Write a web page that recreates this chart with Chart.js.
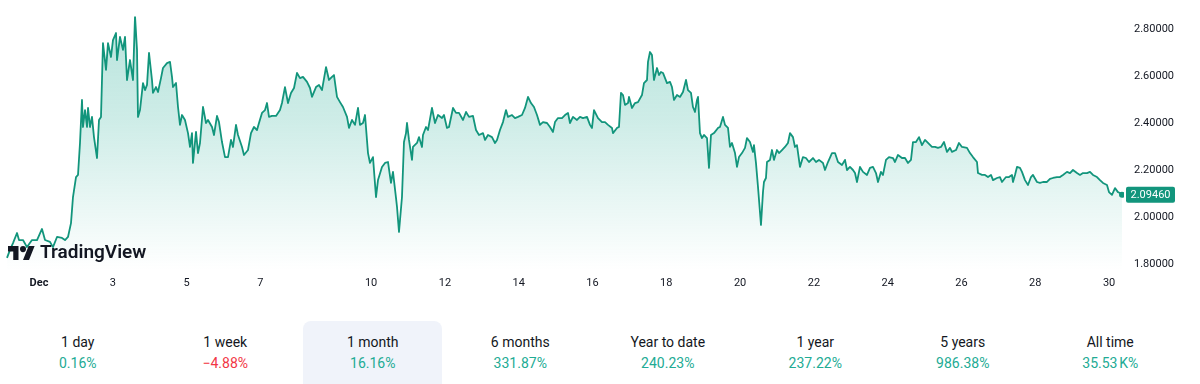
<!DOCTYPE html>
<html>
<head>
<meta charset="utf-8">
<script src="https://cdn.jsdelivr.net/npm/chart.js@4.4.1/dist/chart.umd.min.js"></script>
<style>
  html,body{margin:0;padding:0;background:#fff;}
  body{width:1200px;height:384px;overflow:hidden;position:relative;font-family:Roboto,"Noto Sans",sans-serif;}
  #c{position:absolute;left:0;top:0;display:block;}
  .logo-icon{position:absolute;left:8px;top:246px;width:27px;height:14px;z-index:2;display:block;}
  .logo-text{position:absolute;left:40px;top:241px;z-index:2;font-family:Roboto,sans-serif;font-weight:600;font-size:19px;color:#131722;letter-spacing:0px;line-height:22px;white-space:nowrap;}
  .stats{position:absolute;left:4px;top:321px;width:1180px;height:63px;display:flex;}
  .stat{width:147.5px;height:63px;display:flex;justify-content:center;}
  .stat .box{width:139px;height:70px;border-radius:8px;text-align:center;padding-top:11px;box-sizing:border-box;}
  .stat.active .box{background:#f0f3fa;}
  .lbl{font-size:14px;line-height:21px;color:#131722;}
  .val{font-size:14px;line-height:21px;}
  .up{color:#22ab94;} .down{color:#f23645;}
</style>
</head>
<body>
<canvas id="c" width="1200" height="300"></canvas>
<svg class="logo-icon" viewBox="0 4 36 18" preserveAspectRatio="none"><path d="M14 22H7V11H0V4h14v18zM28 22h-8l7.5-18h8L28 22z" fill="#131722"/><circle cx="20" cy="8" r="4" fill="#131722"/></svg>
<div class="logo-text">TradingView</div>
<div class="stats" id="stats"></div>
<script>
// ---- data ----
const days = [0.133,0.214,0.295,0.404,0.458,0.566,0.675,0.810,0.946,1.081,1.163,1.298,1.379,1.488,1.623,1.705,1.786,1.867,1.921,2.003,2.057,2.111,2.165,2.192,2.247,2.301,2.328,2.382,2.436,2.490,2.572,2.626,2.680,2.734,2.816,2.870,2.951,3.005,3.087,3.114,3.195,3.276,3.331,3.385,3.466,3.547,3.602,3.656,3.683,3.737,3.818,3.873,3.927,3.981,4.062,4.089,4.170,4.225,4.306,4.360,4.469,4.550,4.604,4.631,4.713,4.767,4.821,4.875,4.956,
5.038,5.092,5.146,5.173,5.255,5.309,5.363,5.444,5.526,5.580,5.689,5.742,5.824,5.878,5.959,6.041,6.122,6.203,6.257,6.339,6.393,6.501,6.555,6.664,6.745,6.826,6.908,6.962,7.043,7.125,7.179,7.233,7.314,7.423,7.531,7.585,7.666,7.748,7.829,7.911,7.992,8.073,8.154,8.263,8.344,8.398,8.507,8.588,8.669,8.778,8.859,8.940,8.994,9.076,9.157,9.238,9.347,9.401,9.482,9.564,9.645,9.699,9.780,9.835,
9.916,9.970,10.051,10.133,10.187,10.295,10.377,10.458,10.539,10.593,10.675,10.702,10.756,10.837,10.891,10.946,10.973,11.027,11.108,11.135,11.244,11.298,11.379,11.406,11.488,11.542,11.650,11.732,11.813,11.921,11.975,12.057,12.111,12.220,12.301,12.382,12.491,12.572,12.653,12.761,12.843,12.924,13.032,13.087,13.168,13.276,13.358,13.412,13.493,13.574,13.656,13.710,13.818,13.900,13.981,14.089,14.171,14.252,14.333,14.414,14.496,14.577,14.658,14.767,14.848,14.929,
14.984,15.065,15.173,15.255,15.336,15.390,15.471,15.580,15.661,15.742,15.851,15.932,15.986,16.041,16.149,16.257,16.339,16.420,16.528,16.555,16.664,16.718,16.772,16.826,16.881,16.962,16.989,17.070,17.152,17.233,17.341,17.395,17.477,17.504,17.558,17.612,17.666,17.748,17.802,17.856,17.910,18.019,18.100,18.154,18.208,18.290,18.371,18.452,18.534,18.588,18.669,18.723,18.778,18.832,18.859,18.913,18.967,19.021,19.103,19.157,19.211,19.292,19.401,19.455,19.536,19.591,19.672,19.726,19.780,19.862,19.916,19.970,
20.051,20.133,20.187,20.268,20.349,20.376,20.430,20.485,20.566,20.620,20.647,20.701,20.729,20.810,20.864,20.918,20.999,21.054,21.135,21.216,21.297,21.352,21.433,21.487,21.541,21.623,21.704,21.785,21.867,21.975,22.057,22.138,22.246,22.301,22.382,22.490,22.572,22.653,22.761,22.843,22.897,22.978,23.059,23.114,23.168,23.249,23.330,23.439,23.520,23.601,23.683,23.737,23.818,23.872,23.954,24.035,24.143,24.198,24.279,24.387,24.469,24.550,24.631,24.685,24.767,24.848,24.929,
25.011,25.092,25.200,25.282,25.363,25.444,25.526,25.607,25.688,25.742,25.851,25.932,26.013,26.149,26.230,26.311,26.420,26.447,26.555,26.637,26.718,26.799,26.854,26.962,27.043,27.097,27.206,27.287,27.368,27.395,27.450,27.504,27.585,27.639,27.721,27.802,27.883,27.937,28.046,28.127,28.208,28.317,28.398,28.479,28.587,28.669,28.750,28.859,28.940,29.021,29.130,29.211,29.292,29.401,29.482,29.563,29.672,29.753,29.834,29.943,29.997,30.078,30.160,30.241,30.295,30.350];

const prices = [1.826,1.860,1.889,1.932,1.902,1.902,1.872,1.902,1.902,1.949,1.902,1.894,1.872,1.915,1.911,1.902,1.915,1.974,2.085,2.170,2.179,2.315,2.498,2.383,2.455,2.383,2.464,2.383,2.426,2.340,2.251,2.413,2.426,2.740,2.626,2.740,2.681,2.753,2.783,2.668,2.766,2.711,2.766,2.583,2.668,2.583,2.855,2.711,2.426,2.455,2.570,2.540,2.562,2.698,2.583,2.528,2.553,2.532,2.591,2.634,2.655,2.660,2.596,2.553,2.570,2.468,2.392,2.434,2.413,
2.357,2.298,2.357,2.230,2.362,2.272,2.315,2.468,2.400,2.413,2.383,2.349,2.430,2.404,2.319,2.255,2.255,2.328,2.298,2.392,2.349,2.298,2.264,2.285,2.357,2.383,2.370,2.400,2.443,2.455,2.485,2.426,2.430,2.430,2.455,2.485,2.553,2.485,2.528,2.549,2.613,2.591,2.596,2.575,2.549,2.511,2.553,2.562,2.540,2.638,2.583,2.596,2.604,2.511,2.489,2.468,2.426,2.379,2.413,2.392,2.464,2.392,2.400,2.434,
2.272,2.230,2.255,2.085,2.157,2.213,2.230,2.234,2.145,2.192,2.081,2.043,1.936,2.085,2.319,2.357,2.400,2.328,2.243,2.298,2.315,2.340,2.298,2.349,2.383,2.370,2.464,2.400,2.434,2.421,2.434,2.379,2.383,2.464,2.443,2.443,2.413,2.447,2.426,2.430,2.370,2.349,2.357,2.328,2.349,2.340,2.315,2.328,2.370,2.404,2.455,2.426,2.434,2.421,2.426,2.434,2.464,2.511,2.485,2.468,2.434,2.392,2.404,2.400,2.383,2.362,
2.404,2.421,2.421,2.434,2.443,2.400,2.426,2.413,2.426,2.421,2.426,2.392,2.379,2.455,2.421,2.404,2.404,2.392,2.379,2.357,2.379,2.383,2.528,2.519,2.477,2.485,2.511,2.464,2.485,2.489,2.519,2.570,2.583,2.660,2.702,2.689,2.583,2.634,2.604,2.617,2.613,2.570,2.575,2.553,2.498,2.519,2.511,2.532,2.583,2.540,2.528,2.468,2.447,2.498,2.511,2.357,2.336,2.349,2.336,2.209,2.349,2.357,2.379,2.383,2.426,2.392,2.379,2.298,2.315,2.272,2.213,2.255,
2.272,2.294,2.336,2.319,2.277,2.306,2.230,2.128,1.966,2.106,2.149,2.166,2.234,2.243,2.285,2.243,2.285,2.272,2.285,2.298,2.315,2.357,2.340,2.298,2.306,2.213,2.255,2.251,2.234,2.251,2.234,2.243,2.230,2.200,2.234,2.272,2.272,2.234,2.221,2.243,2.200,2.213,2.200,2.187,2.149,2.213,2.192,2.179,2.209,2.213,2.187,2.149,2.192,2.179,2.243,2.255,2.251,2.234,2.264,2.251,2.251,2.230,2.243,2.319,2.319,2.340,2.306,
2.328,2.315,2.298,2.298,2.294,2.298,2.319,2.277,2.294,2.277,2.285,2.315,2.298,2.294,2.272,2.255,2.234,2.187,2.179,2.179,2.170,2.179,2.157,2.166,2.170,2.149,2.170,2.170,2.179,2.149,2.179,2.213,2.209,2.192,2.157,2.136,2.170,2.179,2.149,2.145,2.149,2.149,2.162,2.166,2.170,2.170,2.179,2.192,2.187,2.200,2.187,2.179,2.187,2.187,2.192,2.179,2.170,2.157,2.145,2.136,2.106,2.094,2.123,2.106,2.102,2.0946];

const xTickDays = [1,3,5,7,10,12,14,16,18,20,22,24,26,28,30];
const yTickValues = [1.8,2.0,2.2,2.4,2.6,2.8];

const periodLabels = ["1 day","1 week","1 month","6 months","Year to date","1 year","5 years","All time"];
const periodValues = ["0.16%","\u22124.88%","16.16%","331.87%","240.23%","237.22%","986.38%","35.53\u202FK%"];
const periodUp = [true,false,true,true,true,true,true,true];
const activePeriod = 2;

// ---- styling / ranges ----
const LINE = '#12957c';
const X_MIN = -0.057, X_MAX = 30.404;
// target placement of the price axis: 2.8 at y=29px, 0.2 per 47px
const Y_REF_VAL = 2.8, Y_REF_PX = 29, PX_PER_UNIT = 235;

if (days.length !== prices.length) { throw new Error('length mismatch ' + days.length + ' vs ' + prices.length); }
const points = days.map((d, i) => ({x: d, y: prices[i]}));

// stats row
const statsEl = document.getElementById('stats');
periodLabels.forEach((l, i) => {
  const s = document.createElement('div');
  s.className = 'stat' + (i === activePeriod ? ' active' : '');
  s.innerHTML = '<div class="box"><div class="lbl">' + l + '</div><div class="val ' + (periodUp[i] ? 'up' : 'down') + '">' + periodValues[i] + '</div></div>';
  statsEl.appendChild(s);
});

const priceLabel = {
  id: 'priceLabel',
  afterDraw(chart) {
    const c = chart.ctx;
    const last = prices[prices.length - 1];
    const y = chart.scales.y.getPixelForValue(last);
    c.save();
    c.fillStyle = LINE;
    c.beginPath();
    if (c.roundRect) c.roundRect(1126, y - 8, 49, 16, 2); else c.rect(1126, y - 8, 49, 16);
    c.fill();
    c.fillStyle = '#ffffff';
    c.font = '11px Roboto';
    c.textAlign = 'center';
    c.textBaseline = 'middle';
    c.fillText(last.toFixed(5), 1150.5, y + 0.5);
    c.restore();
  }
};

const chart = new Chart(document.getElementById('c'), {
  type: 'line',
  data: {
    datasets: [{
      data: points,
      borderColor: LINE,
      borderWidth: 1.8,
      borderJoinStyle: 'round',
      tension: 0,
      pointRadius: (c) => c.dataIndex === points.length - 1 ? 3 : 0,
      pointBackgroundColor: LINE,
      pointBorderWidth: 0,
      fill: 'start',
      backgroundColor: (c) => {
        const ca = c.chart.chartArea;
        if (!ca) return 'rgba(34,171,148,0.15)';
        const g = c.chart.ctx.createLinearGradient(0, 0, 0, 270);
        g.addColorStop(0, 'rgba(34,171,148,0.34)');
        g.addColorStop(0.45, 'rgba(34,171,148,0.22)');
        g.addColorStop(1, 'rgba(34,171,148,0.0)');
        return g;
      }
    }]
  },
  options: {
    responsive: false,
    maintainAspectRatio: false,
    animation: false,
    events: [],
    layout: {padding: 0, autoPadding: false},
    plugins: {legend: {display: false}, tooltip: {enabled: false}},
    scales: {
      x: {
        type: 'linear', min: X_MIN, max: X_MAX,
        afterBuildTicks: (s) => { s.ticks = xTickDays.map(v => ({value: v})); },
        afterFit: (s) => { s.height = 30; },
        ticks: {
          autoSkip: false, maxRotation: 0, padding: 7, color: '#131722',
          font: (c) => ({family: 'Roboto', size: 11, weight: (c.tick && c.tick.value === 1) ? 'bold' : 'normal'}),
          callback: (v) => v === 1 ? 'Dec' : String(v)
        },
        grid: {display: false, drawTicks: false},
        border: {display: false}
      },
      y: {
        position: 'right', min: 1.7745, max: 2.9234,
        afterBuildTicks: (s) => { s.ticks = yTickValues.map(v => ({value: v})); },
        afterFit: (s) => { s.width = 76; },
        ticks: {padding: 10, color: '#131722', font: {family: 'Roboto', size: 11}, callback: (v) => Number(v).toFixed(5)},
        grid: {display: false, drawTicks: false},
        border: {display: false}
      }
    }
  },
  plugins: [priceLabel]
});

// pin the price scale so the tick values land where the reference shows them
const ca = chart.chartArea;
chart.options.scales.y.max = Y_REF_VAL + (Y_REF_PX - ca.top) / PX_PER_UNIT;
chart.options.scales.y.min = Y_REF_VAL - (ca.bottom - Y_REF_PX) / PX_PER_UNIT;
chart.update('none');
</script>
</body>
</html>
